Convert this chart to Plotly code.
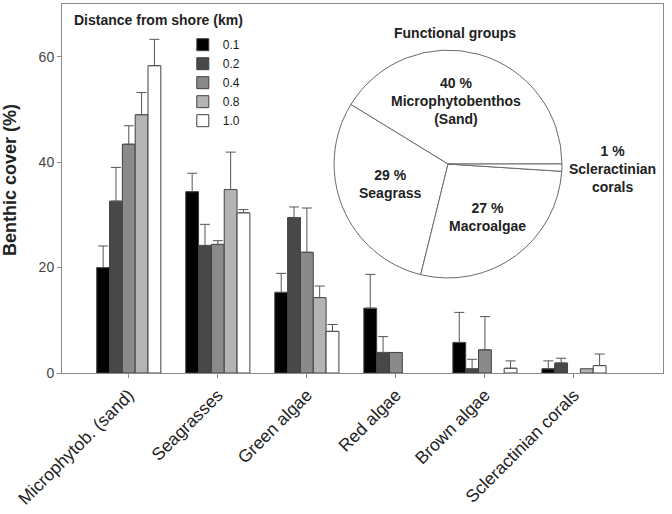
import plotly.graph_objects as go

categories = ["Microphytob. (sand)", "Seagrasses", "Green algae", "Red algae", "Brown algae", "Scleractinian corals"]
series_names = ["0.1", "0.2", "0.4", "0.8", "1.0"]

cover_01 = [20.0, 34.4, 15.3, 12.3, 5.8, 0.8]
cover_02 = [32.6, 24.2, 29.5, 3.9, 0.8, 1.9]
cover_04 = [43.4, 24.4, 22.9, 3.9, 4.4, 0.0]
cover_08 = [49.0, 34.8, 14.3, 0.0, 0.0, 0.8]
cover_10 = [58.3, 30.4, 7.9, 0.0, 0.9, 1.4]

# upper error (None = no error bar drawn)
err_01 = [4.1, 3.5, 3.6, 6.4, 5.7, 1.5]
err_02 = [6.4, 4.0, 2.0, 3.0, 1.8, 0.9]
err_04 = [3.5, 0.7, 8.4, None, 6.3, None]
err_08 = [4.2, 7.1, 2.2, None, None, None]
err_10 = [5.0, 0.6, 1.3, None, 1.4, 2.2]

pie_labels = ["Microphytobenthos (Sand)", "Seagrass", "Macroalgae", "Scleractinian corals"]
pie_values = [40, 29, 27, 1]

y_ticks = [0, 20, 40, 60]

colors = ["#000000", "#484848", "#8a8a8a", "#b4b4b4", "#ffffff"]
FONT = "Arial, Liberation Sans, sans-serif"

fig = go.Figure()
all_vals = [cover_01, cover_02, cover_04, cover_08, cover_10]
all_errs = [err_01, err_02, err_04, err_08, err_10]
for name, vals, errs, col in zip(series_names, all_vals, all_errs, colors):
    fig.add_trace(go.Bar(
        x=categories, y=vals, name=name,
        marker=dict(color=col, line=dict(
            color=["#404040" if v > 0 else "rgba(0,0,0,0)" for v in vals],
            width=[1 if v > 0 else 0 for v in vals])),
        error_y=dict(type="data", symmetric=False,
                     array=[e if e is not None else "NaN" for e in errs],
                     arrayminus=[0 if e is not None else "NaN" for e in errs],
                     color="#555555", thickness=1, width=5),
        hoverinfo="skip",
    ))

# pie inset
fig.add_trace(go.Pie(
    labels=pie_labels, values=pie_values, sort=False,
    direction="counterclockwise", rotation=-58.5,
    marker=dict(colors=["#ffffff"] * 4, line=dict(color="#6a6a6a", width=1)),
    textinfo="none", showlegend=False, hoverinfo="skip",
    domain=dict(x=[0.4526, 0.832], y=[0.2575, 0.875]),
))

ann_font = dict(family=FONT, size=14, color="#222222")
pie_text = [
    ("<b>Functional groups</b>", 0.6539, 0.9214),
    ("<b>40 %<br>Microphytobenthos<br>(Sand)</b>", 0.6556, 0.7371),
    ("<b>29 %<br>Seagrass</b>", 0.5458, 0.5122),
    ("<b>27 %<br>Macroalgae</b>", 0.7072, 0.4228),
    ("<b>1 %<br>Scleractinian<br>corals</b>", 0.9168, 0.5515),
]
annotations = [dict(text=t, x=x, y=y, xref="paper", yref="paper", showarrow=False,
                    font=ann_font, xanchor="center", yanchor="middle") for t, x, y in pie_text]
annotations.append(dict(text="<b>Distance from shore (km)</b>", x=0.0166, y=0.9566,
                        xref="paper", yref="paper", showarrow=False, font=ann_font,
                        xanchor="left", yanchor="middle"))
annotations.append(dict(text="<b>Benthic cover (%)</b>", x=-0.0865, y=0.523,
                        xref="paper", yref="paper", showarrow=False, textangle=-90,
                        font=dict(family=FONT, size=18, color="#222222"),
                        xanchor="center", yanchor="middle"))

fig.update_layout(
    template="none",
    width=672, height=514,
    margin=dict(l=62, r=9, t=4, b=141),
    plot_bgcolor="white", paper_bgcolor="white",
    barmode="group", bargap=0.28, bargroupgap=0,
    font=dict(family=FONT, color="#222222"),
    showlegend=True,
    legend=dict(x=0.201, y=0.929, xanchor="left", yanchor="top",
                font=dict(family=FONT, size=12, color="#1a1a1a"),
                bgcolor="rgba(0,0,0,0)", borderwidth=0, traceorder="normal"),
    annotations=annotations,
    xaxis=dict(type="category", range=[-0.75, 6.0], showline=True, linecolor="#8a8a8a",
               linewidth=1, mirror=True, ticks="outside", ticklen=4, tickcolor="#8a8a8a",
               tickangle=-45, tickfont=dict(family=FONT, size=17.5, color="#222222"),
               showgrid=False, zeroline=False, automargin=False),
    yaxis=dict(range=[0, 70], tickvals=y_ticks, showline=True, linecolor="#8a8a8a",
               linewidth=1, mirror=True, ticks="outside", ticklen=4, tickcolor="#8a8a8a",
               tickfont=dict(family=FONT, size=14, color="#444444"),
               showgrid=False, zeroline=False, automargin=False),
)

fig.write_html("out.html", config={"displayModeBar": False},
               post_script="document.body.style.margin='0';")
